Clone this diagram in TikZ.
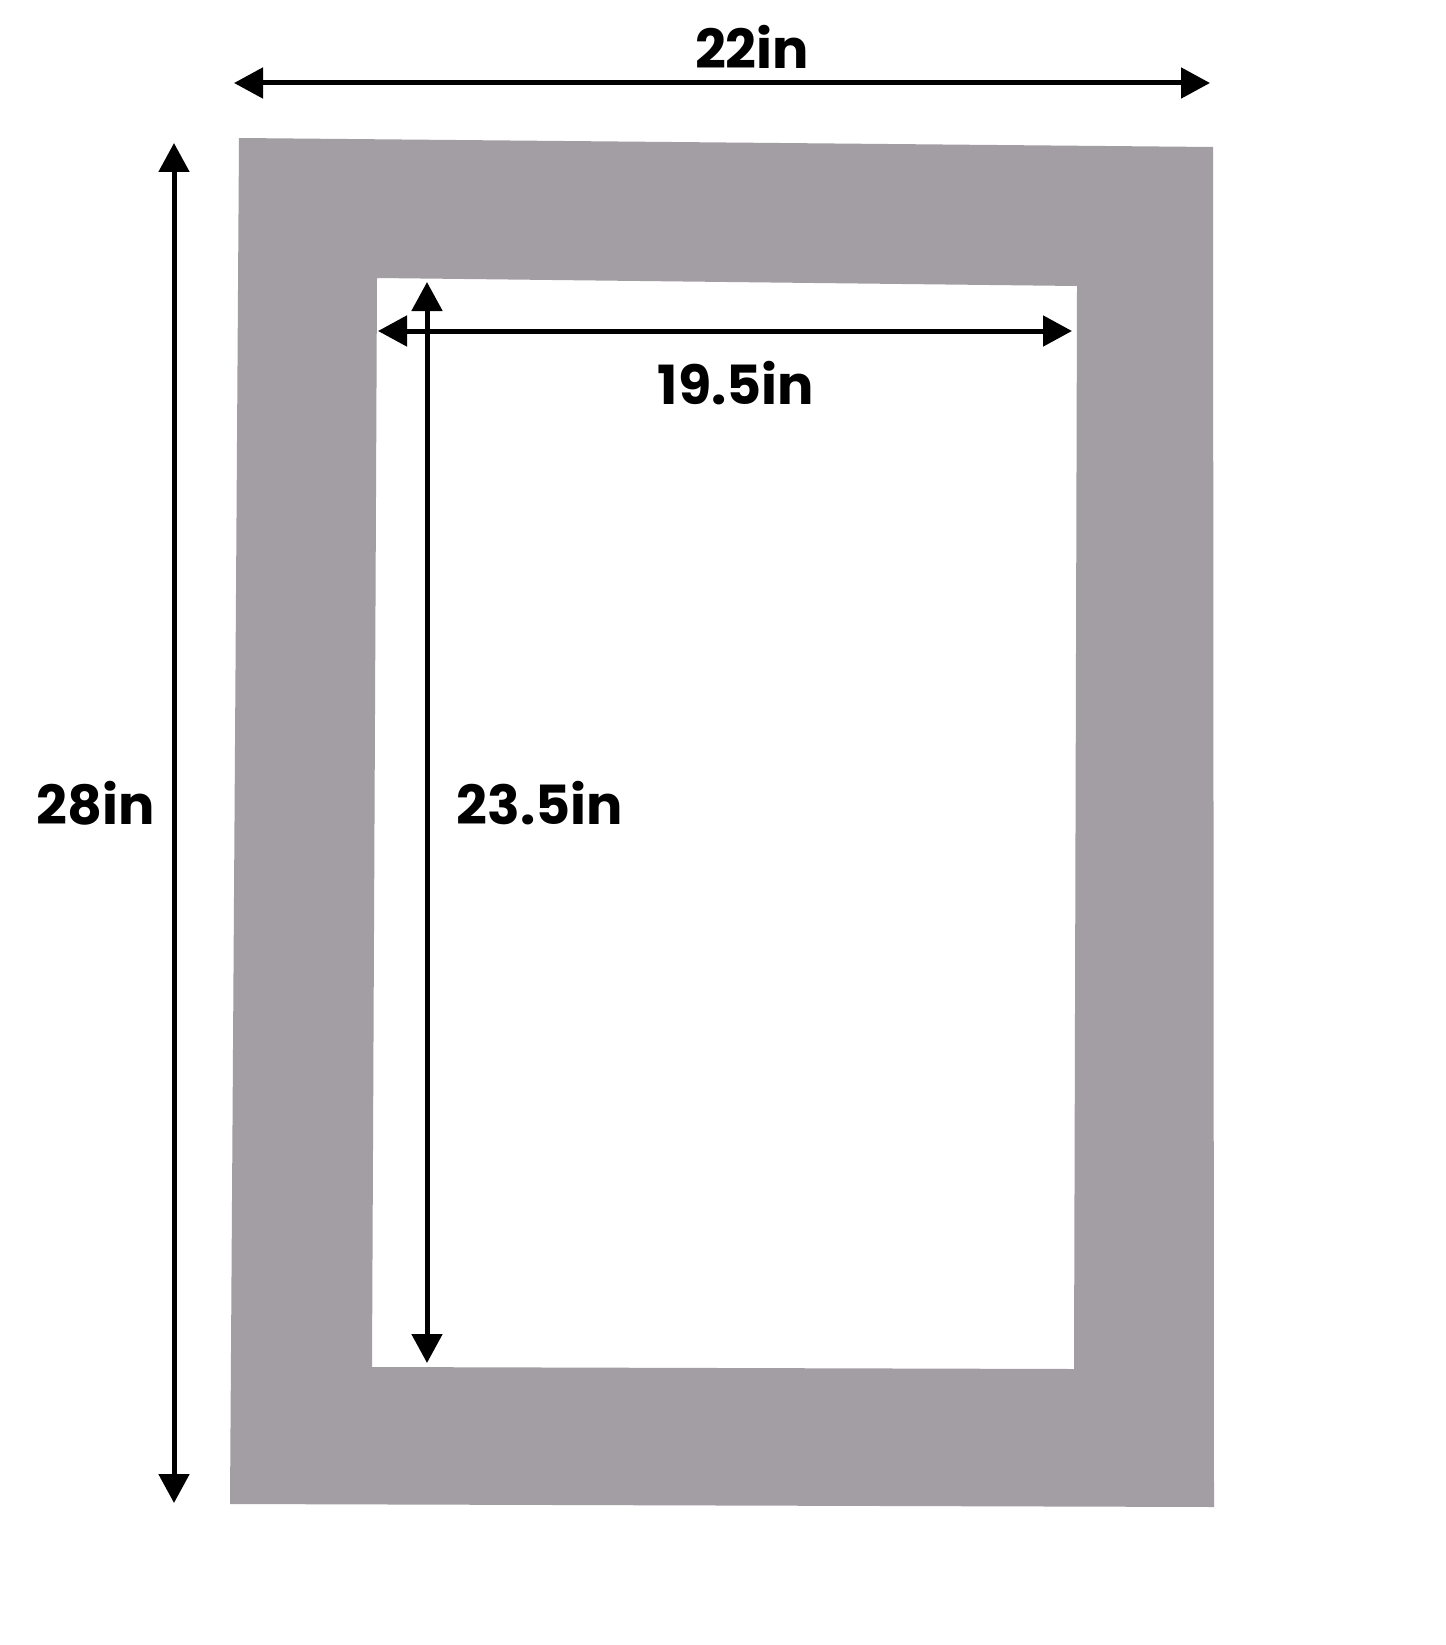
\documentclass[tikz,border=0pt]{standalone}
\usepackage{fontspec}
\setmainfont{Poppins}[UprightFont=* Bold]
\usetikzlibrary{arrows.meta}
\definecolor{matgray}{RGB}{163,158,164}
\tikzset{
  dimarrow/.style={line width=5pt,{Triangle[length=29pt,width=30pt]}-{Triangle[length=29pt,width=30pt]}},
  dimlabel/.style={font=\fontsize{54}{58}\selectfont, inner sep=0pt}
}
\begin{document}
\begin{tikzpicture}[x=1pt,y=-1pt]

    % Page
    \useasboundingbox (0,0) rectangle (1445,1645);
    \fill[white] (0,0) rectangle (1445,1645);

    % Mat board with window
    \fill[matgray, even odd rule]
        (239,138) -- (1213,147) -- (1214,1507) -- (230,1504) -- cycle
        (377,278) -- (1077,286) -- (1074,1369) -- (372,1367) -- cycle;

    % Outer width 22in
    \coordinate (wL) at (234,83);
    \coordinate (wR) at (1210,83);
    \draw[dimarrow] (wL) -- (wR);
    \node[dimlabel] (wlab) at (752,47) {22in};

    % Outer height 28in
    \coordinate (hT) at (174,143);
    \coordinate (hB) at (174,1503);
    \draw[dimarrow] (hT) -- (hB);
    \node[dimlabel] (hlab) at (96,803) {28in};

    % Window width 19.5in
    \coordinate (iwL) at (378,331);
    \coordinate (iwR) at (1072,331);
    \draw[dimarrow] (iwL) -- (iwR);
    \node[dimlabel] (iwlab) at (736,383) {19.5in};

    % Window height 23.5in
    \coordinate (ihT) at (427,282);
    \coordinate (ihB) at (427,1363);
    \draw[dimarrow] (ihT) -- (ihB);
    \node[dimlabel] (ihlab) at (540,803) {23.5in};

\end{tikzpicture}
\end{document}
